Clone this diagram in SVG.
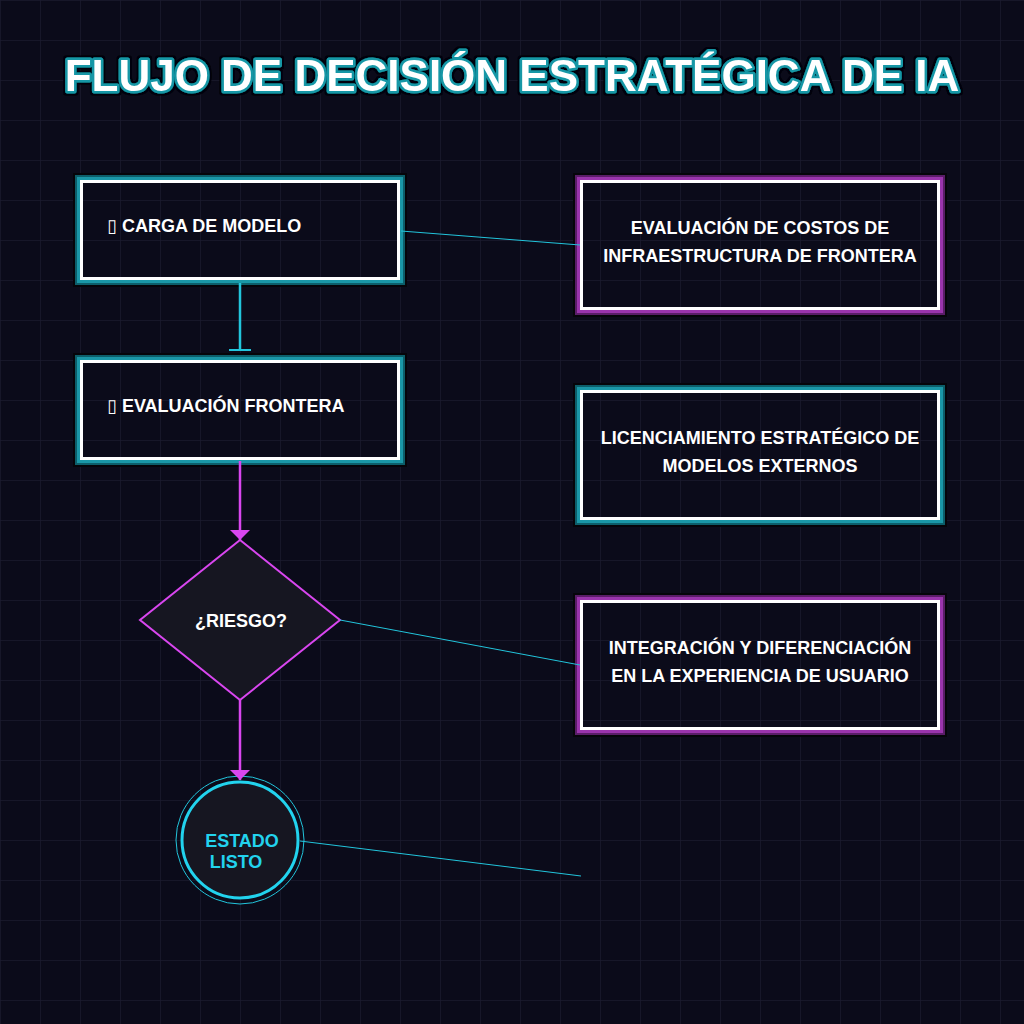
<svg xmlns="http://www.w3.org/2000/svg" width="1024" height="1024" viewBox="0 0 1024 1024">
<defs>
<pattern id="grid" width="40" height="40" patternUnits="userSpaceOnUse">
<path d="M0 0V40M0 0H40" fill="none" stroke="#1a1a2e" stroke-width="1.5"/>
</pattern>
<marker id="arrP" markerWidth="10" markerHeight="20" refX="10" refY="10" orient="auto" markerUnits="userSpaceOnUse" viewBox="0 0 10 20">
<path d="M0 0L10 10L0 20Z" fill="#d946ef"/>
</marker>
<marker id="tee" markerWidth="22" markerHeight="6" refX="11" refY="3" orient="0" markerUnits="userSpaceOnUse" viewBox="0 0 22 6">
<path d="M0 3H22" stroke="#22c5dc" stroke-width="2"/>
</marker>
<filter id="outl" x="-5%" y="-30%" width="110%" height="160%">
<feMorphology in="SourceAlpha" operator="dilate" radius="1.5" result="d"/>
<feFlood flood-color="#02060a"/>
<feComposite in2="d" operator="in" result="o"/>
<feMerge><feMergeNode in="o"/><feMergeNode in="SourceGraphic"/></feMerge>
</filter>
</defs>
<style>
.bg{fill:#0b0b1a}
.title{font-family:"Liberation Sans",Arial,sans-serif;font-weight:bold;font-size:44px;fill:#ffffff;stroke:#1597a6;stroke-width:5;paint-order:stroke;stroke-linejoin:round}
.lbl{font-family:"Liberation Sans",Arial,sans-serif;font-weight:bold;font-size:18px;fill:#ffffff}
.ctr{text-anchor:middle}
.g1{fill:none;stroke:#05050a;stroke-width:2}
.t2{fill:none;stroke:#0c5e6a;stroke-width:2}
.t3{fill:none;stroke:#1a97a7;stroke-width:3}
.p2{fill:none;stroke:#5a1d68;stroke-width:2}
.p3{fill:none;stroke:#9a34ad;stroke-width:3}
.w{fill:none;stroke:#ffffff;stroke-width:3}
.cyan{stroke:#22c5dc;stroke-width:1;fill:none}
.purp{stroke:#d946ef;stroke-width:2.5;fill:none}
.circtxt{font-family:"Liberation Sans",Arial,sans-serif;font-weight:bold;font-size:18px;fill:#22d3ee}
</style>
<rect class="bg" x="0" y="0" width="1024" height="1024"/>
<rect x="0" y="0" width="1024" height="1024" fill="url(#grid)"/>

<text class="title ctr" x="512" y="91" filter="url(#outl)">FLUJO DE DECISIÓN ESTRATÉGICA DE IA</text>

<g id="n-carga">
<rect class="g1" x="74" y="174" width="332" height="112"/>
<rect class="t2" x="76" y="176" width="328" height="108"/>
<rect class="t3" x="78.5" y="178.5" width="323" height="103"/>
<rect class="w" x="81.5" y="181.5" width="317" height="97"/>
<text class="lbl" x="107" y="232"><tspan font-family="DejaVu Sans" font-weight="normal">▯</tspan> CARGA DE MODELO</text>
</g>

<g id="n-evaluacion">
<rect class="g1" x="74" y="354" width="332" height="112"/>
<rect class="t2" x="76" y="356" width="328" height="108"/>
<rect class="t3" x="78.5" y="358.5" width="323" height="103"/>
<rect class="w" x="81.5" y="361.5" width="317" height="97"/>
<text class="lbl" x="107" y="412"><tspan font-family="DejaVu Sans" font-weight="normal">▯</tspan> EVALUACIÓN FRONTERA</text>
</g>

<g id="n-riesgo">
<polygon points="240,540 340,620 240,700 140,620" fill="#161621" stroke="#d946ef" stroke-width="2"/>
<text class="lbl ctr" x="241" y="627">¿RIESGO?</text>
</g>

<g id="n-estado">
<circle cx="240" cy="840" r="64" fill="none" stroke="#22c5dc" stroke-width="1"/>
<circle cx="240" cy="840" r="58" fill="#161621" stroke="#22d3ee" stroke-width="3"/>
<text class="circtxt ctr" x="242" y="847">ESTADO</text>
<text class="circtxt ctr" x="236" y="868">LISTO</text>
</g>

<g id="n-costos">
<rect class="g1" x="574" y="174" width="372" height="142"/>
<rect class="p2" x="576" y="176" width="368" height="138"/>
<rect class="p3" x="578.5" y="178.5" width="363" height="133"/>
<rect class="w" x="581.5" y="181.5" width="357" height="127"/>
<text class="lbl ctr" x="760" y="234">EVALUACIÓN DE COSTOS DE</text>
<text class="lbl ctr" x="760" y="262">INFRAESTRUCTURA DE FRONTERA</text>
</g>

<g id="n-licencia">
<rect class="g1" x="574" y="384" width="372" height="142"/>
<rect class="t2" x="576" y="386" width="368" height="138"/>
<rect class="t3" x="578.5" y="388.5" width="363" height="133"/>
<rect class="w" x="581.5" y="391.5" width="357" height="127"/>
<text class="lbl ctr" x="760" y="444">LICENCIAMIENTO ESTRATÉGICO DE</text>
<text class="lbl ctr" x="760" y="472">MODELOS EXTERNOS</text>
</g>

<g id="n-integracion">
<rect class="g1" x="574" y="594" width="372" height="142"/>
<rect class="p2" x="576" y="596" width="368" height="138"/>
<rect class="p3" x="578.5" y="598.5" width="363" height="133"/>
<rect class="w" x="581.5" y="601.5" width="357" height="127"/>
<text class="lbl ctr" x="760" y="654">INTEGRACIÓN Y DIFERENCIACIÓN</text>
<text class="lbl ctr" x="760" y="682">EN LA EXPERIENCIA DE USUARIO</text>
</g>

<g id="connectors">
<line x1="240" y1="283" x2="240" y2="350" stroke="#22c5dc" stroke-width="2.5" marker-end="url(#tee)"/>
<line class="purp" x1="240" y1="461" x2="240" y2="540" marker-end="url(#arrP)"/>
<line class="purp" x1="240" y1="700" x2="240" y2="780" marker-end="url(#arrP)"/>
<line class="cyan" x1="401" y1="231" x2="580" y2="245"/>
<line class="cyan" x1="340" y1="620" x2="580" y2="665"/>
<line class="cyan" x1="300" y1="841" x2="581" y2="876"/>
</g>
</svg>
